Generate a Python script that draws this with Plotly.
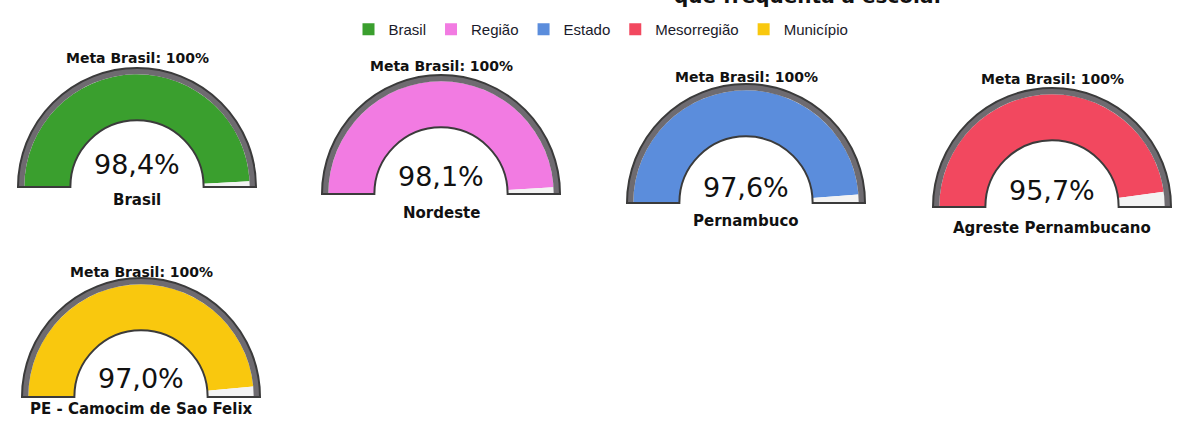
import plotly.graph_objects as go

# data
title_tail = "que frequenta a escola."
levels = ["Brasil", "Região", "Estado", "Mesorregião", "Município"]
places = ["Brasil", "Nordeste", "Pernambuco", "Agreste Pernambucano", "PE - Camocim de Sao Felix"]
values = [98.4, 98.1, 97.6, 95.7, 97.0]
meta_brasil = 100

COLORS = ["#3a9f2e", "#f27be2", "#5b8ddc", "#f2485f", "#f9c80e"]
RING = "#6e6b70"
EMPTY = "#f3f3f3"
EDGE = "#3b3b3b"
TEXT = "#111111"

W, H = 1178, 427
R = 119  # outer radius of a gauge, px
HOLE = 0.56
# centre x and baseline y of each gauge in px (the photo is slightly tilted)
CENTERS = [(137, 187), (441, 194), (746, 203), (1052, 207), (141, 397)]
META_Y = [58, 66, 77, 79, 272]
VALUE_Y = [164, 176, 187, 190, 378]
LABEL_Y = [200, 213, 221, 228, 409]


def px(x):
    return x / W


def py(y):
    return 1 - y / H


fig = go.Figure()
annotations = []

for i, (place, level, value) in enumerate(zip(places, levels, values)):
    subplot = 'polar' if i == 0 else f'polar{i + 1}'
    span = 180 * value / meta_brasil

    # filled part
    fig.add_trace(go.Barpolar(theta=[span / 2], width=[span], r=[0.88], base=[0], name=level,
                              marker=dict(color=COLORS[i], line=dict(width=0)),
                              subplot=subplot, hoverinfo='skip'))
    # what is missing to reach the goal
    fig.add_trace(go.Barpolar(theta=[(span + 180) / 2], width=[180 - span], r=[0.88], base=[0],
                              marker=dict(color=EMPTY, line=dict(width=0)),
                              subplot=subplot, showlegend=False, hoverinfo='skip'))
    # grey ring = goal (100%)
    fig.add_trace(go.Barpolar(theta=[90], width=[180], r=[0.12], base=[0.88],
                              marker=dict(color=RING, line=dict(width=0)),
                              subplot=subplot, showlegend=False, hoverinfo='skip'))

    cx, base = CENTERS[i]
    fig.update_layout({subplot: dict(
        domain=dict(x=[px(cx - R), px(cx + R)], y=[py(base), py(base - R)]),
        sector=[0, 180],
        hole=HOLE,
        bgcolor='white',
        radialaxis=dict(visible=False, range=[0, 1]),
        angularaxis=dict(rotation=180, direction='clockwise', showline=True, linecolor=EDGE, linewidth=2,
                         showgrid=False, showticklabels=False, ticks=''),
    )})

    annotations.append(dict(text=f'Meta Brasil: {meta_brasil}%', x=px(cx), y=py(META_Y[i]),
                            font=dict(family='DejaVu Sans', size=14, color=TEXT, weight='bold')))
    annotations.append(dict(text=f'{value:.1f}%'.replace('.', ','), x=px(cx), y=py(VALUE_Y[i]),
                            font=dict(family='DejaVu Sans', size=27, color=TEXT)))
    annotations.append(dict(text=place, x=px(cx), y=py(LABEL_Y[i]),
                            font=dict(family='DejaVu Sans', size=15, color=TEXT, weight='bold')))

for a in annotations:
    a.update(xref='paper', yref='paper', showarrow=False, xanchor='center', yanchor='middle')

# the title is cut off by the top of the photo, only its end is visible
annotations.append(dict(text=title_tail, xref='paper', yref='paper', x=px(943), y=py(-4),
                        xanchor='right', yanchor='middle', showarrow=False,
                        font=dict(family='DejaVu Sans', size=20, color=TEXT, weight='bold')))

fig.update_layout(
    template='none',
    width=W, height=H,
    margin=dict(l=0, r=0, t=0, b=0),
    paper_bgcolor='white',
    plot_bgcolor='white',
    annotations=annotations,
    showlegend=True,
    legend=dict(orientation='h', x=px(601), xanchor='center', y=py(13), yanchor='top',
                font=dict(family='Liberation Sans', size=15, color='#1a1a2a'),
                bgcolor='rgba(0,0,0,0)', itemclick=False, itemdoubleclick=False),
)

fig.write_html("out.html", config={'displayModeBar': False},
               post_script="document.body.style.margin='0';")
